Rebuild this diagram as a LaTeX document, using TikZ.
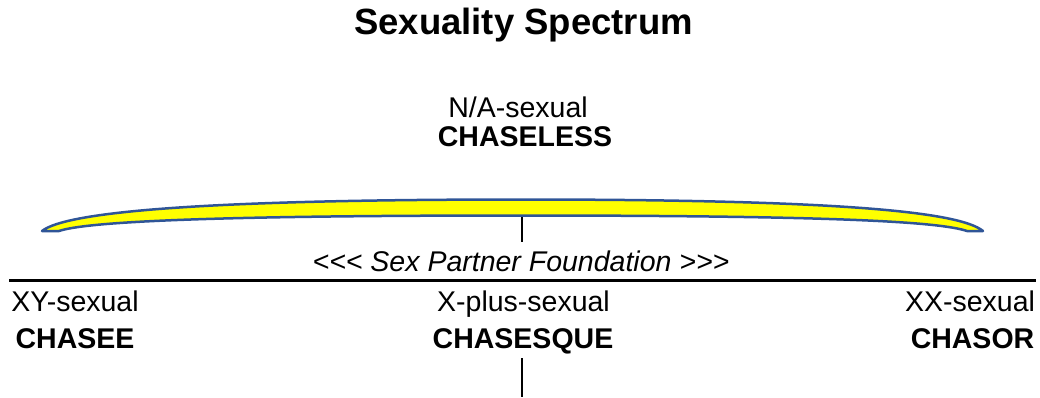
\documentclass[tikz,border=0pt]{standalone}
\usepackage{fontspec}
\setmainfont{Liberation Sans}[Ligatures=TeXOff]
\definecolor{bannerblue}{HTML}{2F5597}
\definecolor{banneryellow}{HTML}{FFFF00}
\tikzset{
	lbl/.style={anchor=base, inner sep=0pt, font=\fontsize{28.5}{32}\selectfont},
	bold lbl/.style={lbl, font=\fontsize{28.5}{32}\selectfont\bfseries},
}
\begin{document}
\begin{tikzpicture}[x=1pt, y=-1pt, >=stealth]
		\useasboundingbox (0,0) rectangle (1040,397);
		\node[lbl, font=\fontsize{36.5}{40}\selectfont\bfseries] (title) at (523.5,34) {Sexuality Spectrum};
		\node[lbl] (nasexual) at (518,117.5) {N/A-sexual};
		\node[bold lbl] (chaseless) at (525,146.5) {CHASELESS};
		\draw[bannerblue, line width=2.5pt, fill=banneryellow, line join=round]
			(42,231) .. controls (66,212) and (200,199.5) .. (521,199.5)
			.. controls (842,199.5) and (960,212) .. (983,231)
			-- (967,231) .. controls (940,222) and (840,215.5) .. (521,215.5)
			.. controls (202,215.5) and (86,222) .. (59,231) -- cycle;
		\coordinate (bannerbot) at (521.5,217);
		\coordinate (stubtop) at (521.5,241.5);
		\draw[line width=2pt] (bannerbot) -- (stubtop);
		\node[lbl, font=\fontsize{28.5}{32}\selectfont\itshape] (foundation) at (521,271) {<<< Sex Partner Foundation >>>};
		\coordinate (lineleft) at (9,280.5);
		\coordinate (lineright) at (1036,280.5);
		\draw[line width=3pt] (lineleft) -- (lineright);
		\node[lbl] (xysexual) at (75,311.5) {XY-sexual};
		\node[bold lbl] (chasee) at (75,348) {CHASEE};
		\node[lbl] (xplus) at (523.5,311.5) {X-plus-sexual};
		\node[bold lbl] (chasesque) at (523,348) {CHASESQUE};
		\node[lbl] (xxsexual) at (970,311.5) {XX-sexual};
		\node[bold lbl] (chasor) at (972.5,348) {CHASOR};
		\coordinate (stubbot) at (521.5,397);
		\draw[line width=2pt] (521.5,358) -- (stubbot);
		\end{tikzpicture}
\end{document}
